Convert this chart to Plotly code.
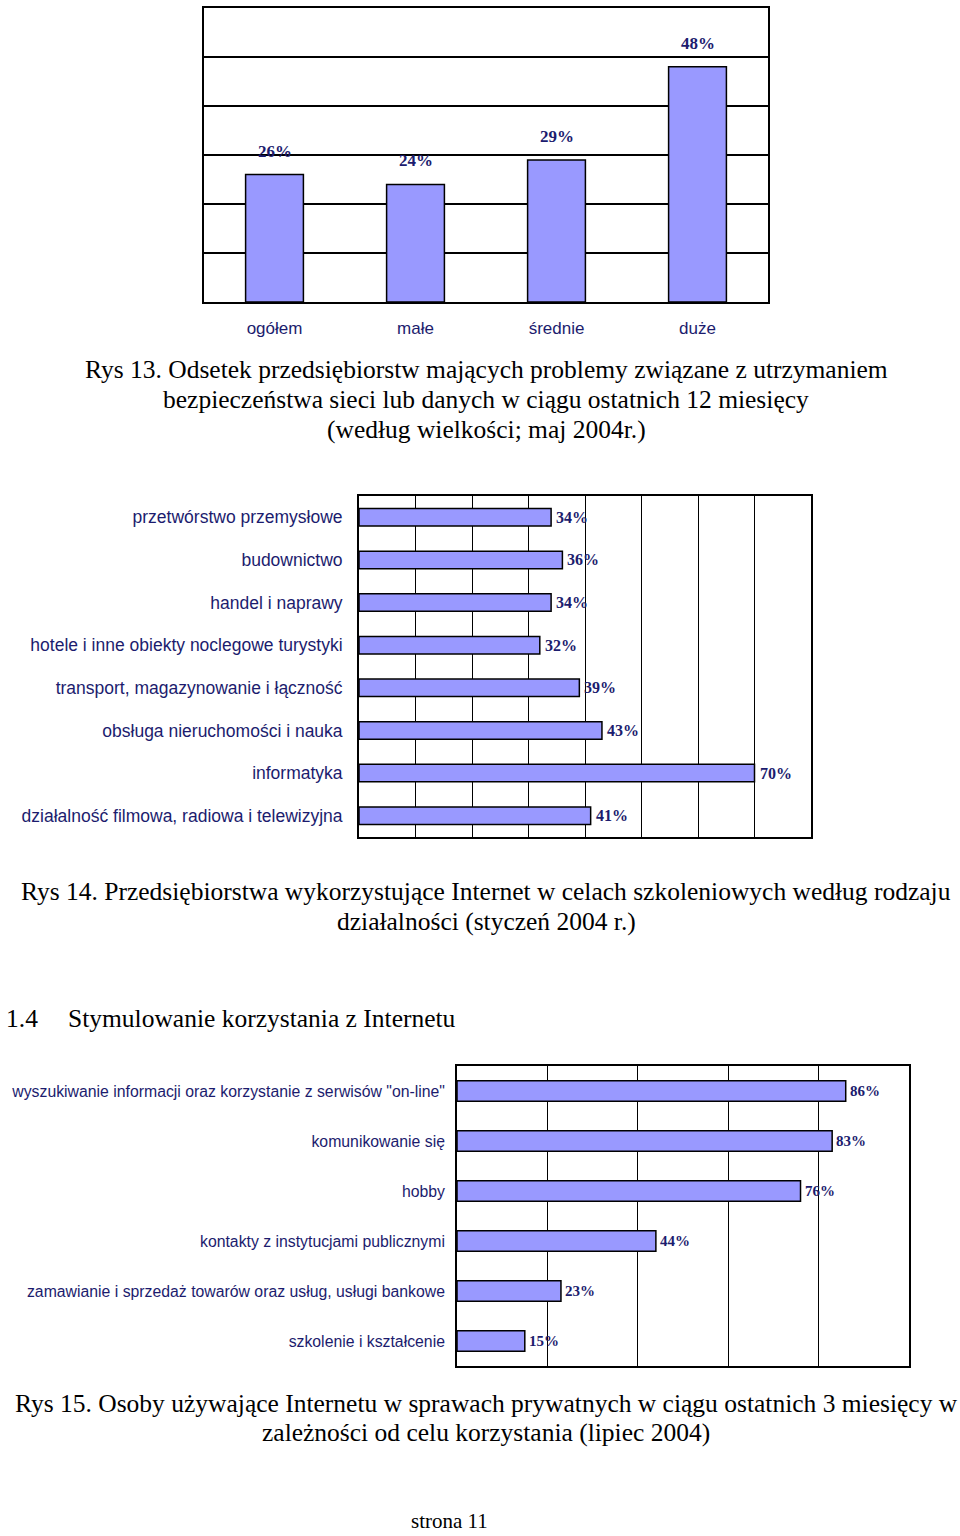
import plotly.graph_objects as go

W, H = 960, 1536

# ---- data ----
size_cats = ["ogółem", "małe", "średnie", "duże"]
size_vals = [26, 24, 29, 48]

sector_cats = [
    "przetwórstwo przemysłowe",
    "budownictwo",
    "handel i naprawy",
    "hotele i inne obiekty noclegowe turystyki",
    "transport, magazynowanie i łączność",
    "obsługa nieruchomości i nauka",
    "informatyka",
    "działalność filmowa, radiowa i telewizyjna",
]
sector_vals = [34, 36, 34, 32, 39, 43, 70, 41]

purpose_cats = [
    'wyszukiwanie informacji oraz korzystanie z serwisów "on-line"',
    "komunikowanie się",
    "hobby",
    "kontakty z instytucjami publicznymi",
    "zamawianie i sprzedaż towarów oraz usług, usługi bankowe",
    "szkolenie i kształcenie",
]
purpose_vals = [86, 83, 76, 44, 23, 15]

BAR = "#9999ff"
NAVY = "#1c1c6e"
SERIF = "Liberation Serif, Times New Roman, serif"
NARROW = "Liberation Sans Narrow, Arial Narrow, Liberation Sans, Arial, sans-serif"


def px(x):
    return x / W


def py(y):
    return 1 - y / H


fig = go.Figure()

bar_line = dict(color="black", width=1.5)

fig.add_trace(go.Bar(x=size_cats, y=size_vals, width=0.41, marker=dict(color=BAR, line=bar_line),
                     xaxis="x", yaxis="y", hoverinfo="skip"))
fig.add_trace(go.Bar(y=sector_cats, x=sector_vals, orientation="h", width=0.41,
                     marker=dict(color=BAR, line=bar_line), xaxis="x2", yaxis="y2", hoverinfo="skip"))
fig.add_trace(go.Bar(y=purpose_cats, x=purpose_vals, orientation="h", width=0.41,
                     marker=dict(color=BAR, line=bar_line), xaxis="x3", yaxis="y3", hoverinfo="skip"))

ann = []
for c, v in zip(size_cats, size_vals):
    ann.append(dict(x=c, y=v, xref="x", yref="y", text=f"{v}%", showarrow=False,
                    yanchor="bottom", yshift=12,
                    font=dict(family=SERIF, size=17, color=NAVY, weight="bold")))
for c, v in zip(sector_cats, sector_vals):
    ann.append(dict(x=v, y=c, xref="x2", yref="y2", text=f"{v}%", showarrow=False,
                    xanchor="left", xshift=3,
                    font=dict(family=SERIF, size=16, color=NAVY, weight="bold")))
for c, v in zip(purpose_cats, purpose_vals):
    ann.append(dict(x=v, y=c, xref="x3", yref="y3", text=f"{v}%", showarrow=False,
                    xanchor="left", xshift=2,
                    font=dict(family=SERIF, size=15, color=NAVY, weight="bold")))

# document text
cap = dict(family=SERIF, size=25.5, color="black")
texts = [
    ("Rys 13. Odsetek przedsiębiorstw mających problemy związane z utrzymaniem", 486, 369, "center"),
    ("bezpieczeństwa sieci lub danych w ciągu ostatnich 12 miesięcy", 486, 399, "center"),
    ("(według wielkości; maj 2004r.)", 486, 429, "center"),
    ("Rys 14. Przedsiębiorstwa wykorzystujące Internet w celach szkoleniowych według rodzaju", 486, 891, "center"),
    ("działalności (styczeń 2004 r.)", 486, 921, "center"),
    ("Rys 15. Osoby używające Internetu w sprawach prywatnych w ciągu ostatnich 3 miesięcy w", 486, 1403, "center"),
    ("zależności od celu korzystania (lipiec 2004)", 486, 1432, "center"),
]
for t, x, y, a in texts:
    ann.append(dict(x=px(x), y=py(y), xref="paper", yref="paper", text=t, showarrow=False,
                    xanchor=a, yanchor="middle", font=cap))
ann.append(dict(x=px(4), y=py(1018), xref="paper", yref="paper", text="1.4", showarrow=False,
                xanchor="left", yanchor="middle", font=cap))
ann.append(dict(x=px(66), y=py(1018), xref="paper", yref="paper",
                text="Stymulowanie korzystania z Internetu", showarrow=False,
                xanchor="left", yanchor="middle", font=cap))
ann.append(dict(x=px(449), y=py(1535), xref="paper", yref="paper", text="strona 11", showarrow=False,
                xanchor="center", yanchor="bottom", font=dict(family=SERIF, size=21, color="black")))

axbase = dict(showline=True, linecolor="black", linewidth=1.8, mirror=True, zeroline=False,
              fixedrange=True)

fig.update_layout(
    width=W, height=H, margin=dict(l=0, r=0, t=0, b=0),
    paper_bgcolor="white", plot_bgcolor="white", showlegend=False,
    bargap=0.59,
    annotations=ann,
    xaxis=dict(domain=[px(204), px(768)], anchor="y", range=[-0.5, 3.5], showgrid=False,
               ticks="", ticklabelstandoff=10,
               tickfont=dict(family=NARROW, size=17, color=NAVY), **axbase),
    yaxis=dict(domain=[py(302), py(8)], anchor="x", range=[0, 60], dtick=10, showgrid=True,
               gridcolor="black", gridwidth=1.5, showticklabels=False, **axbase),
    xaxis2=dict(domain=[px(359), px(811)], anchor="y2", range=[0, 80], dtick=10, showgrid=True,
                gridcolor="black", gridwidth=1.3, showticklabels=False, **axbase),
    yaxis2=dict(domain=[py(837), py(496)], anchor="x2", range=[7.5, -0.5], showgrid=False,
                ticks="", ticklabelstandoff=11,
                tickfont=dict(family=NARROW, size=17.5, color=NAVY), **axbase),
    xaxis3=dict(domain=[px(457), px(909)], anchor="y3", range=[0, 100], dtick=20, showgrid=True,
                gridcolor="black", gridwidth=1.3, showticklabels=False, **axbase),
    yaxis3=dict(domain=[py(1366), py(1066)], anchor="x3", range=[5.5, -0.5], showgrid=False,
                ticks="", ticklabelstandoff=7,
                tickfont=dict(family=NARROW, size=15.8, color=NAVY), **axbase),
)

fig.write_html("out.html")
